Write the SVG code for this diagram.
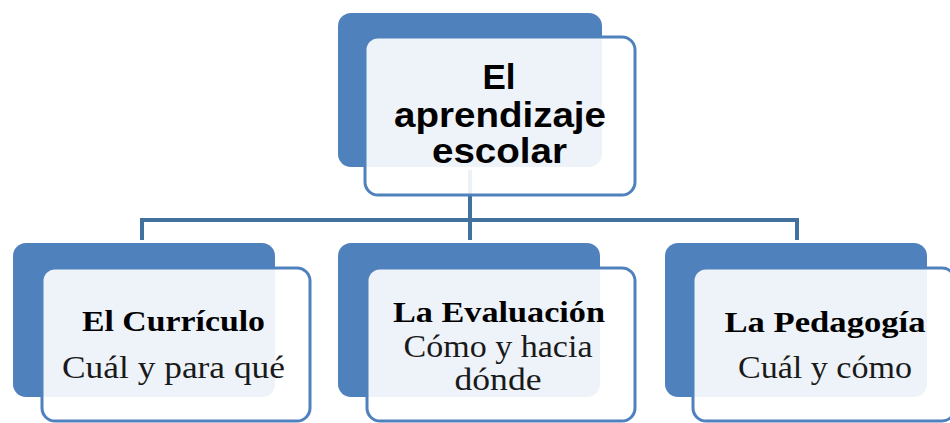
<svg xmlns="http://www.w3.org/2000/svg" width="950" height="423" viewBox="0 0 950 423">
<style>
.back{fill:#4F81BD}
.front{fill:#FFFFFF;fill-opacity:0.9;stroke:#4F81BD;stroke-width:3}
.conn{fill:none;stroke:#41719C;stroke-width:4}
.top{font-family:"Liberation Sans",Arial,sans-serif;font-weight:bold;font-size:35px;fill:#000;text-anchor:middle}
.h{font-family:"Liberation Serif","Times New Roman",serif;font-weight:bold;font-size:30px;fill:#000;text-anchor:middle}
.s{font-family:"Liberation Serif","Times New Roman",serif;font-size:32px;fill:#1a1a1a;text-anchor:middle}
</style>
<rect width="950" height="423" fill="#FFFFFF"/>
<g id="connectors">
<path class="conn" d="M470,170 V220 M142,220 H797 M142,218 V240 M470,218 V240 M797,218 V240"/>
</g>
<g id="node-root">
<rect class="back" x="338" y="13" width="264" height="154" rx="13"/>
<rect class="front" x="365" y="37" width="270" height="158" rx="13"/>
<text class="top" x="499" y="89">El</text>
<text class="top" x="500" y="127" textLength="212" lengthAdjust="spacingAndGlyphs">aprendizaje</text>
<text class="top" x="499.5" y="163" textLength="135" lengthAdjust="spacingAndGlyphs">escolar</text>
</g>
<g id="node-curriculo">
<rect class="back" x="13" y="243" width="262" height="154" rx="13"/>
<rect class="front" x="42" y="268" width="268" height="153" rx="13"/>
<text class="h" x="173.5" y="331" textLength="183" lengthAdjust="spacingAndGlyphs">El Currículo</text>
<text class="s" x="173.5" y="378" textLength="223" lengthAdjust="spacingAndGlyphs">Cuál y para qué</text>
</g>
<g id="node-evaluacion">
<rect class="back" x="338" y="243" width="262" height="154" rx="13"/>
<rect class="front" x="367" y="268" width="268" height="153" rx="13"/>
<text class="h" x="499" y="322" textLength="212" lengthAdjust="spacingAndGlyphs">La Evaluación</text>
<text class="s" x="498" y="357" textLength="189" lengthAdjust="spacingAndGlyphs">Cómo y hacia</text>
<text class="s" x="498" y="390" textLength="87" lengthAdjust="spacingAndGlyphs">dónde</text>
</g>
<g id="node-pedagogia">
<rect class="back" x="665" y="243" width="262" height="154" rx="13"/>
<rect class="front" x="693" y="268" width="262" height="153" rx="13"/>
<text class="h" x="825" y="332" textLength="201" lengthAdjust="spacingAndGlyphs">La Pedagogía</text>
<text class="s" x="825" y="378" textLength="174" lengthAdjust="spacingAndGlyphs">Cuál y cómo</text>
</g>
</svg>
